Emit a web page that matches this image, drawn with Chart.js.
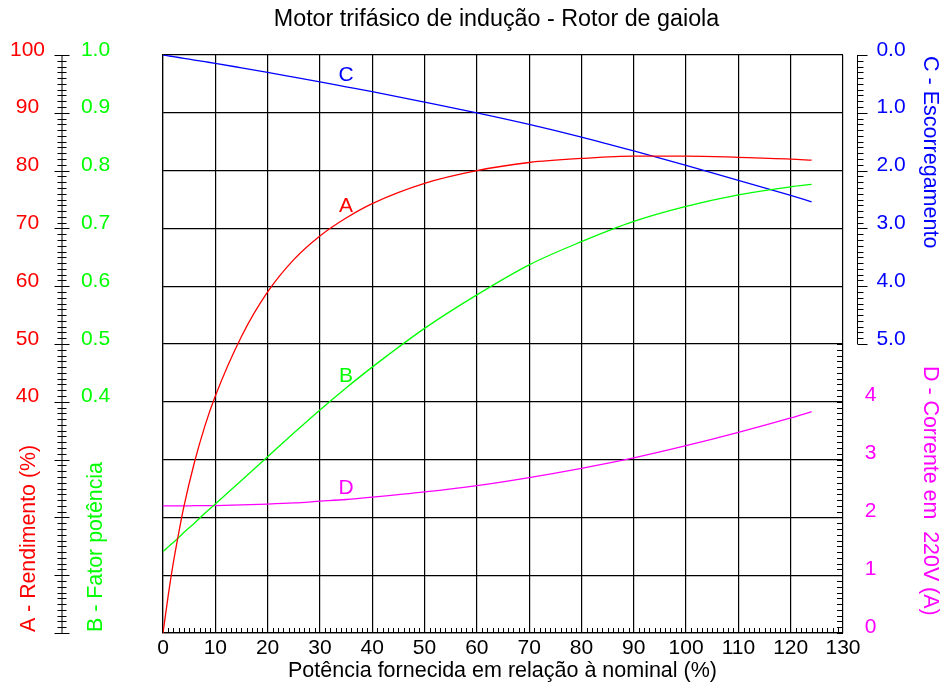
<!DOCTYPE html>
<html>
<head>
<meta charset="utf-8">
<title>Motor trifásico de indução - Rotor de gaiola</title>
<script src="https://cdn.jsdelivr.net/npm/chart.js@4.4.1/dist/chart.umd.min.js"></script>
<style>
  html, body { margin: 0; padding: 0; background: #fff; }
  canvas { display: block; }
</style>
</head>
<body>
<canvas id="motorChart" width="943" height="686"></canvas>
<script>
// potência fornecida (% da nominal)
const potencia = [0, 1, 2, 3, 4, 6, 8, 10, 15, 20, 25, 30, 35, 40, 50, 60, 70, 80, 90, 100, 110, 120, 124];
// A - rendimento (%)
const rendimento = [0, 6.5, 12.3, 17.3, 21.9, 29.5, 35.8, 41.0, 51.3, 59.0, 64.6, 68.7, 71.8, 74.3, 77.8, 80.0, 81.4, 82.1, 82.5, 82.5, 82.3, 82.0, 81.8];
// B - fator de potência
const fatorPotencia = [0.141, 0.149, 0.157, 0.165, 0.174, 0.190, 0.207, 0.223, 0.264, 0.305, 0.346, 0.386, 0.424, 0.460, 0.527, 0.585, 0.637, 0.677, 0.712, 0.738, 0.758, 0.772, 0.776];
// C - escorregamento
const escorregamento = [0, 0.0145, 0.029, 0.0435, 0.058, 0.087, 0.116, 0.145, 0.222, 0.30, 0.382, 0.465, 0.55, 0.635, 0.815, 1.00, 1.20, 1.42, 1.66, 1.91, 2.17, 2.43, 2.54];
// D - corrente em 220V (A)
const corrente = [2.20, 2.20, 2.20, 2.20, 2.20, 2.202, 2.203, 2.205, 2.215, 2.23, 2.25, 2.28, 2.31, 2.35, 2.44, 2.55, 2.69, 2.85, 3.03, 3.24, 3.47, 3.72, 3.83];

const xTicks = [0, 10, 20, 30, 40, 50, 60, 70, 80, 90, 100, 110, 120, 130];
const rendimentoTicks = [100, 90, 80, 70, 60, 50, 40];
const fatorTicks = [1.0, 0.9, 0.8, 0.7, 0.6, 0.5, 0.4];
const escorregamentoTicks = [0, 1, 2, 3, 4, 5];
const correnteTicks = [0, 1, 2, 3, 4];

const curveNames = ['A', 'B', 'C', 'D'];
const curveLabelX = [35, 35, 35, 35];
const curveLabelY = [74.1, 0.447, 0.32, 2.54];

const RED = '#ff0000';
const GREEN = '#00ff00';
const BLUE = '#0000ff';
const MAGENTA = '#ff00ff';
const FAMILY = '"Liberation Sans", Arial, Helvetica, sans-serif';
const font = (size) => `${size}px ${FAMILY}`;

const toPoints = (values) => potencia.map((x, i) => ({ x, y: values[i] }));

const line = (ctx, x1, y1, x2, y2) => {
  ctx.beginPath();
  ctx.moveTo(x1, y1);
  ctx.lineTo(x2, y2);
  ctx.stroke();
};

const text = (ctx, str, x, y, color, size, align) => {
  ctx.fillStyle = color;
  ctx.font = font(size);
  ctx.textAlign = align || 'center';
  ctx.textBaseline = 'alphabetic';
  ctx.fillText(str, x, y);
};

const rotatedText = (ctx, str, x, y, angle, color, size) => {
  ctx.save();
  ctx.translate(x, y);
  ctx.rotate(angle);
  text(ctx, str, 0, 0, color, size, 'left');
  ctx.restore();
};

// eixos extras, réguas, títulos e letras das curvas
const motorAxes = {
  id: 'motorAxes',
  afterDraw(chart) {
    const { ctx, chartArea } = chart;
    const { x, yA, yB, yC, yD } = chart.scales;
    const area = chartArea;
    ctx.save();
    ctx.strokeStyle = '#000';
    ctx.lineWidth = 1;

    // régua da esquerda (A e B)
    const rulerX = 62;
    line(ctx, rulerX, yA.getPixelForValue(0), rulerX, yA.getPixelForValue(100));
    for (let v = 0; v <= 100; v++) {
      const py = Math.round(yA.getPixelForValue(v)) + 0.5;
      const half = v % 10 === 0 ? 7.5 : 4.5;
      line(ctx, rulerX - half, py, rulerX + half, py);
    }

    // traços menores no eixo x
    for (let v = 0; v <= 130; v++) {
      if (v % 10 === 0) continue;
      const px = Math.round(x.getPixelForValue(v)) + 0.5;
      line(ctx, px, area.bottom, px, area.bottom - 5);
    }

    // traços menores para D na borda direita
    for (let v = 0; v <= 50; v++) {
      const py = Math.round(yD.getPixelForValue(v / 10)) + 0.5;
      line(ctx, area.right - 6, py, area.right, py);
    }

    // régua C
    const cX = 857.5;
    line(ctx, cX, yC.getPixelForValue(0), cX, yC.getPixelForValue(5));
    for (let v = 0; v <= 50; v++) {
      const py = Math.round(yC.getPixelForValue(v / 10)) + 0.5;
      const len = v % 10 === 0 ? 10 : 6;
      line(ctx, cX, py, cX + len, py);
    }

    // rótulos
    rendimentoTicks.forEach(v => text(ctx, String(v), 27.5, yA.getPixelForValue(v) + 0.5, RED, 21));
    fatorTicks.forEach(v => text(ctx, v.toFixed(1), 95.5, yB.getPixelForValue(v) + 0.5, GREEN, 21));
    escorregamentoTicks.forEach(v => text(ctx, v.toFixed(1), 891, yC.getPixelForValue(v) + 0.5, BLUE, 21));
    correnteTicks.forEach(v => text(ctx, String(v), 870.5, yD.getPixelForValue(v) - 0.5, MAGENTA, 21));
    xTicks.forEach(v => text(ctx, String(v), x.getPixelForValue(v), 653.5, '#000', 21));

    // títulos
    text(ctx, 'Motor trifásico de indução - Rotor de gaiola', 496.5, 26, '#000', 23.3);
    text(ctx, 'Potência fornecida em relação à nominal (%)', 502.5, 676.5, '#000', 21.5);
    rotatedText(ctx, 'A - Rendimento (%)', 35, 632, -Math.PI / 2, RED, 21.3);
    rotatedText(ctx, 'B - Fator potência', 101.5, 632, -Math.PI / 2, GREEN, 21.4);
    rotatedText(ctx, 'C - Escorregamento', 923.5, 56, Math.PI / 2, BLUE, 21.5);
    rotatedText(ctx, 'D - Corrente em  220V (A)', 923.5, 366, Math.PI / 2, MAGENTA, 21.4);

    // letras das curvas
    const curveScales = [yA, yB, yC, yD];
    const curveColors = [RED, GREEN, BLUE, MAGENTA];
    curveNames.forEach((name, i) => {
      const px = x.getPixelForValue(curveLabelX[i]);
      const py = curveScales[i].getPixelForValue(curveLabelY[i]);
      text(ctx, name, px, py + 7.5, curveColors[i], 21);
    });

    ctx.restore();
  }
};

const curve = (label, values, color, axis) => ({
  label: label,
  data: toPoints(values),
  yAxisID: axis,
  borderColor: color,
  backgroundColor: color,
  borderWidth: 1.3,
  pointRadius: 0,
  fill: false,
  cubicInterpolationMode: 'monotone'
});

const gridOptions = { color: '#000', lineWidth: 1.2, drawTicks: false };

const ctx = document.getElementById('motorChart').getContext('2d');
new Chart(ctx, {
  type: 'line',
  data: {
    datasets: [
      curve('A - Rendimento (%)', rendimento, RED, 'yA'),
      curve('B - Fator potência', fatorPotencia, GREEN, 'yB'),
      curve('C - Escorregamento', escorregamento, BLUE, 'yC'),
      curve('D - Corrente em 220V (A)', corrente, MAGENTA, 'yD')
    ]
  },
  options: {
    responsive: false,
    animation: false,
    devicePixelRatio: 1,
    layout: { padding: { left: 163, right: 100, top: 55, bottom: 53 } },
    plugins: {
      legend: { display: false },
      tooltip: { enabled: false }
    },
    scales: {
      x: {
        type: 'linear',
        min: 0,
        max: 130,
        ticks: { stepSize: 10, display: false },
        grid: gridOptions,
        border: { color: '#000', width: 1.2 }
      },
      yA: {
        position: 'left',
        min: 0,
        max: 100,
        ticks: { stepSize: 10, display: false },
        grid: gridOptions,
        border: { color: '#000', width: 1.2 }
      },
      yB: { display: false, min: 0, max: 1 },
      yC: { display: false, min: 0, max: 10, reverse: true },
      yD: { display: false, min: 0, max: 10 }
    }
  },
  plugins: [motorAxes]
});
</script>
</body>
</html>
